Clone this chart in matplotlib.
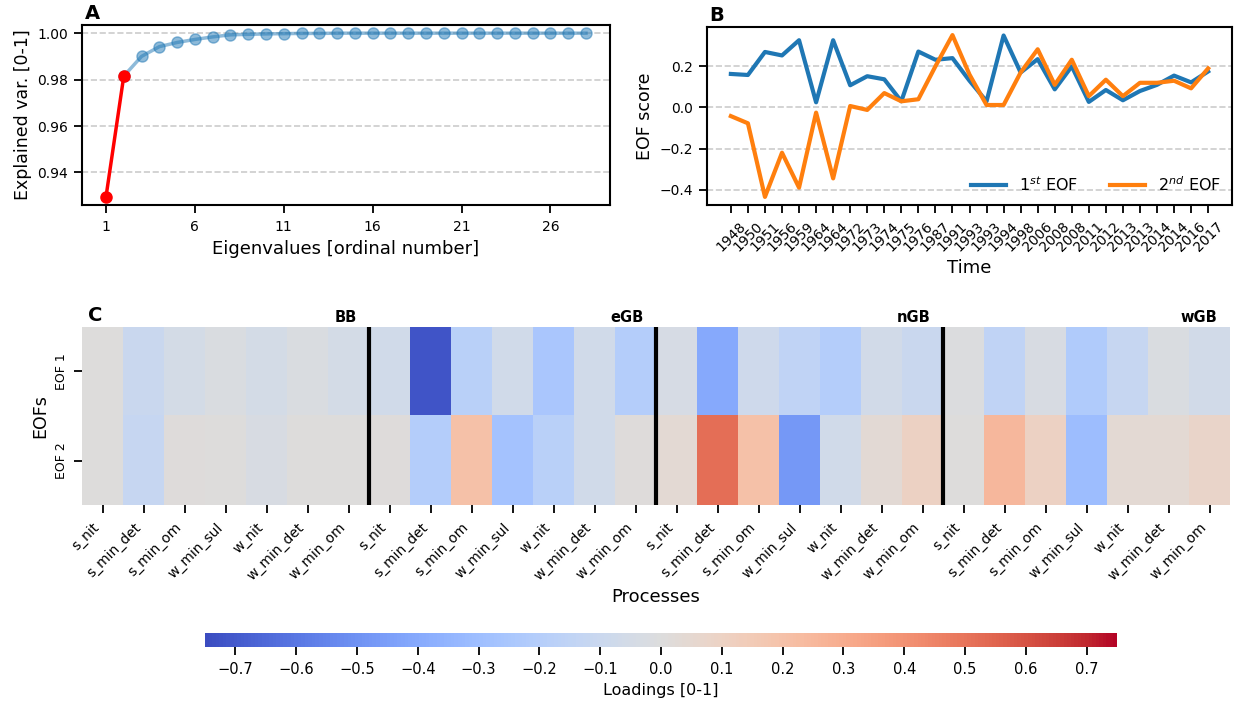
import matplotlib
matplotlib.use("Agg")
from matplotlib import pyplot as plt
import matplotlib.transforms as mtransforms
import numpy as np

# cumulative explained variance of the eigenvalues
expl_var = [0.9295, 0.9815, 0.9900, 0.9942, 0.9960, 0.9973, 0.9984, 0.9993,
            0.9995, 0.9997, 0.9998, 0.9999, 0.9999, 1.0, 1.0, 1.0, 1.0, 1.0,
            1.0, 1.0, 1.0, 1.0, 1.0, 1.0, 1.0, 1.0, 1.0, 1.0]

# EOF scores per campaign
years = ["1948", "1950", "1951", "1956", "1959", "1964", "1964", "1972", "1973",
         "1974", "1975", "1976", "1987", "1991", "1993", "1993", "1994", "1998",
         "2006", "2008", "2008", "2011", "2012", "2013", "2013", "2014", "2014",
         "2016", "2017"]
eof1 = [0.163, 0.158, 0.270, 0.253, 0.327, 0.025, 0.327, 0.108, 0.152, 0.137,
        0.030, 0.272, 0.232, 0.240, 0.130, 0.030, 0.350, 0.170, 0.235, 0.088,
        0.200, 0.027, 0.085, 0.035, 0.080, 0.110, 0.155, 0.122, 0.175]
eof2 = [-0.042, -0.077, -0.435, -0.220, -0.390, -0.025, -0.345, 0.007, -0.012,
        0.070, 0.030, 0.040, 0.200, 0.352, 0.160, 0.012, 0.012, 0.170, 0.283,
        0.110, 0.232, 0.055, 0.135, 0.055, 0.120, 0.120, 0.130, 0.093, 0.190]

# loadings
regions = ["BB", "eGB", "nGB", "wGB"]
processes = ["s_nit", "s_min_det", "s_min_om", "w_min_sul", "w_nit", "w_min_det", "w_min_om"]
load_eof1 = [0.00, -0.10, -0.05, -0.02, -0.05, -0.02, -0.05,
             -0.07, -0.72, -0.18, -0.07, -0.25, -0.07, -0.20,
             -0.04, -0.40, -0.08, -0.15, -0.20, -0.06, -0.10,
             -0.01, -0.15, -0.03, -0.22, -0.12, -0.02, -0.06]
load_eof2 = [0.00, -0.12, 0.01, 0.00, -0.03, 0.00, 0.00,
             0.01, -0.20, 0.20, -0.27, -0.18, -0.07, 0.01,
             0.04, 0.52, 0.20, -0.47, -0.07, 0.03, 0.10,
             0.00, 0.25, 0.10, -0.30, 0.04, 0.04, 0.08]

plt.rcParams["font.family"] = "DejaVu Sans"
plt.rcParams["axes.linewidth"] = 1.5
plt.rcParams["xtick.major.width"] = 1.3
plt.rcParams["ytick.major.width"] = 1.3
plt.rcParams["xtick.major.size"] = 6
plt.rcParams["ytick.major.size"] = 6
plt.rcParams["xtick.major.pad"] = 5
plt.rcParams["ytick.major.pad"] = 4

W, H = 1234, 709
fig = plt.figure(figsize=(W / 100, H / 100), dpi=100)


def box(l, t, r, b):
    return [l / W, 1 - b / H, (r - l) / W, (b - t) / H]


# A: explained variance
ax1 = fig.add_axes(box(82, 25, 610, 205))
n = np.arange(1, len(expl_var) + 1)
ax1.plot(n[1:], expl_var[1:], "o-", color="tab:blue", alpha=0.5, lw=2.5, ms=8)
ax1.plot(n[:2], expl_var[:2], "o-", color="red", lw=2.5, ms=8)
ax1.set_xticks(np.arange(1, 28, 5))
ax1.set_yticks([0.94, 0.96, 0.98, 1.00])
ax1.grid(axis="y", ls="--", color="0.8", lw=1.2)
ax1.tick_params(labelsize=10)
ax1.set_xlabel("Eigenvalues [ordinal number]", fontsize=13)
ax1.set_ylabel("Explained var. [0-1]", fontsize=12.5)
ax1.text(0.005, 1.01, "A", transform=ax1.transAxes, fontsize=14, fontweight="bold", va="bottom")

# B: EOF scores
ax2 = fig.add_axes(box(707, 27, 1232, 205))
t = np.arange(len(years))
ax2.plot(t, eof1, color="tab:blue", lw=3, label="1$^{st}$ EOF")
ax2.plot(t, eof2, color="tab:orange", lw=3, label="2$^{nd}$ EOF")
ax2.set_xticks(t)
ax2.set_xticklabels(years, rotation=45, ha="center")
ax2.set_yticks([-0.4, -0.2, 0.0, 0.2])
ax2.grid(axis="y", ls="--", color="0.8", lw=1.2)
ax2.tick_params(axis="y", labelsize=10)
ax2.tick_params(axis="x", labelsize=10, pad=4)
ax2.set_xlabel("Time", fontsize=13)
ax2.set_ylabel("EOF score", fontsize=12.5)
ax2.legend(loc="lower right", ncol=2, frameon=False, fontsize=11.5, handlelength=2.2,
           borderaxespad=0.3)
ax2.text(0.005, 1.01, "B", transform=ax2.transAxes, fontsize=14, fontweight="bold", va="bottom")

# C: loadings heatmap
ax3 = fig.add_axes(box(82, 327, 1230, 505))
loads = np.array([load_eof1, load_eof2])
ncol = loads.shape[1]
im = ax3.imshow(loads, cmap="coolwarm", vmin=-0.75, vmax=0.75, aspect="auto",
                extent=(0, ncol, 2, 0), interpolation="nearest")
for k in range(1, len(regions)):
    ax3.axvline(7 * k, color="black", lw=3)
for spine in ax3.spines.values():
    spine.set_visible(False)
ax3.set_xticks(np.arange(ncol) + 0.5)
ax3.set_xticklabels(processes * len(regions), rotation=45, ha="right", fontsize=10)
ax3.set_yticks([0.5, 1.5])
ax3.set_yticklabels(["EOF 1", "EOF 2"], rotation=90, va="center", fontsize=9)
ax3.set_xlabel("Processes", fontsize=13)
ax3.set_ylabel("EOFs", fontsize=12.5)
trans = mtransforms.blended_transform_factory(ax3.transData, ax3.transAxes)
for k, reg in enumerate(regions):
    ax3.text(7 * (k + 1) - 0.3, 1.01, reg, transform=trans, ha="right", va="bottom",
             fontsize=10.5, fontweight="bold")
ax3.text(0.005, 1.01, "C", transform=ax3.transAxes, fontsize=14, fontweight="bold", va="bottom")

# colorbar
cax = fig.add_axes(box(205, 633, 1117, 647))
cb = fig.colorbar(im, cax=cax, orientation="horizontal")
cb.set_ticks(np.round(np.arange(-0.7, 0.71, 0.1), 1))
cb.outline.set_visible(False)
cax.tick_params(labelsize=10.5)
cb.set_label("Loadings [0-1]", fontsize=11.5)

fig.savefig("out.png", dpi=100)
